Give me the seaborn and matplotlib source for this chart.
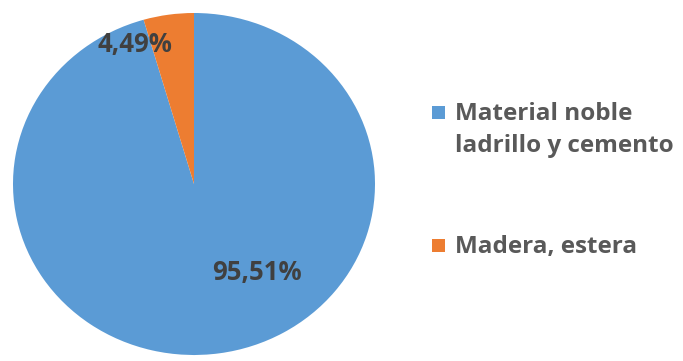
import matplotlib
matplotlib.use("Agg")
import matplotlib.pyplot as plt
from matplotlib.patches import Rectangle
import seaborn as sns

# Housing wall material shares (%)
categories = ["Material noble\nladrillo y cemento", "Madera, estera"]
shares = [95.51, 4.49]
colors = ["#5B9BD5", "#ED7D31"]

sns.set_theme(style="white")
plt.rcParams["font.family"] = ["Open Sans", "DejaVu Sans"]

W, H = 683, 361
fig = plt.figure(figsize=(W / 100, H / 100), dpi=100)
ax = fig.add_axes([13 / W, 6 / H, 362 / W, 342 / H])

wedges, _ = ax.pie(
    shares,
    colors=colors,
    startangle=90,
    counterclock=False,
    radius=1.0,
    wedgeprops=dict(linewidth=0),
)
ax.set_aspect("auto")
ax.set_xlim(-1.0, 1.0)
ax.set_ylim(-1.0, 1.0)
ax.axis("off")

# Percentage labels (decimal comma)
label_pos = [(0.348, -0.515), (-0.326, 0.813)]
for value, (lx, ly) in zip(shares, label_pos):
    ax.text(lx, ly, f"{value:.2f}%".replace(".", ","), ha="center", va="center",
            fontsize=18.5, fontweight="bold", color="#404040")

# Legend: square marker beside the first line of each entry
entry_baselines = [120, 253]   # px from top
line_step = 32
for cat, col, base in zip(categories, colors, entry_baselines):
    fig.patches.append(Rectangle((432 / W, 1 - (base - 1) / H), 13 / W, 13 / H,
                                 transform=fig.transFigure, facecolor=col,
                                 edgecolor="none"))
    for i, line in enumerate(cat.split("\n")):
        fig.text(455 / W, 1 - (base + i * line_step) / H, line,
                 ha="left", va="baseline", fontsize=17.5, fontweight="bold",
                 color="#595959")

fig.savefig("out.png", dpi=100)
